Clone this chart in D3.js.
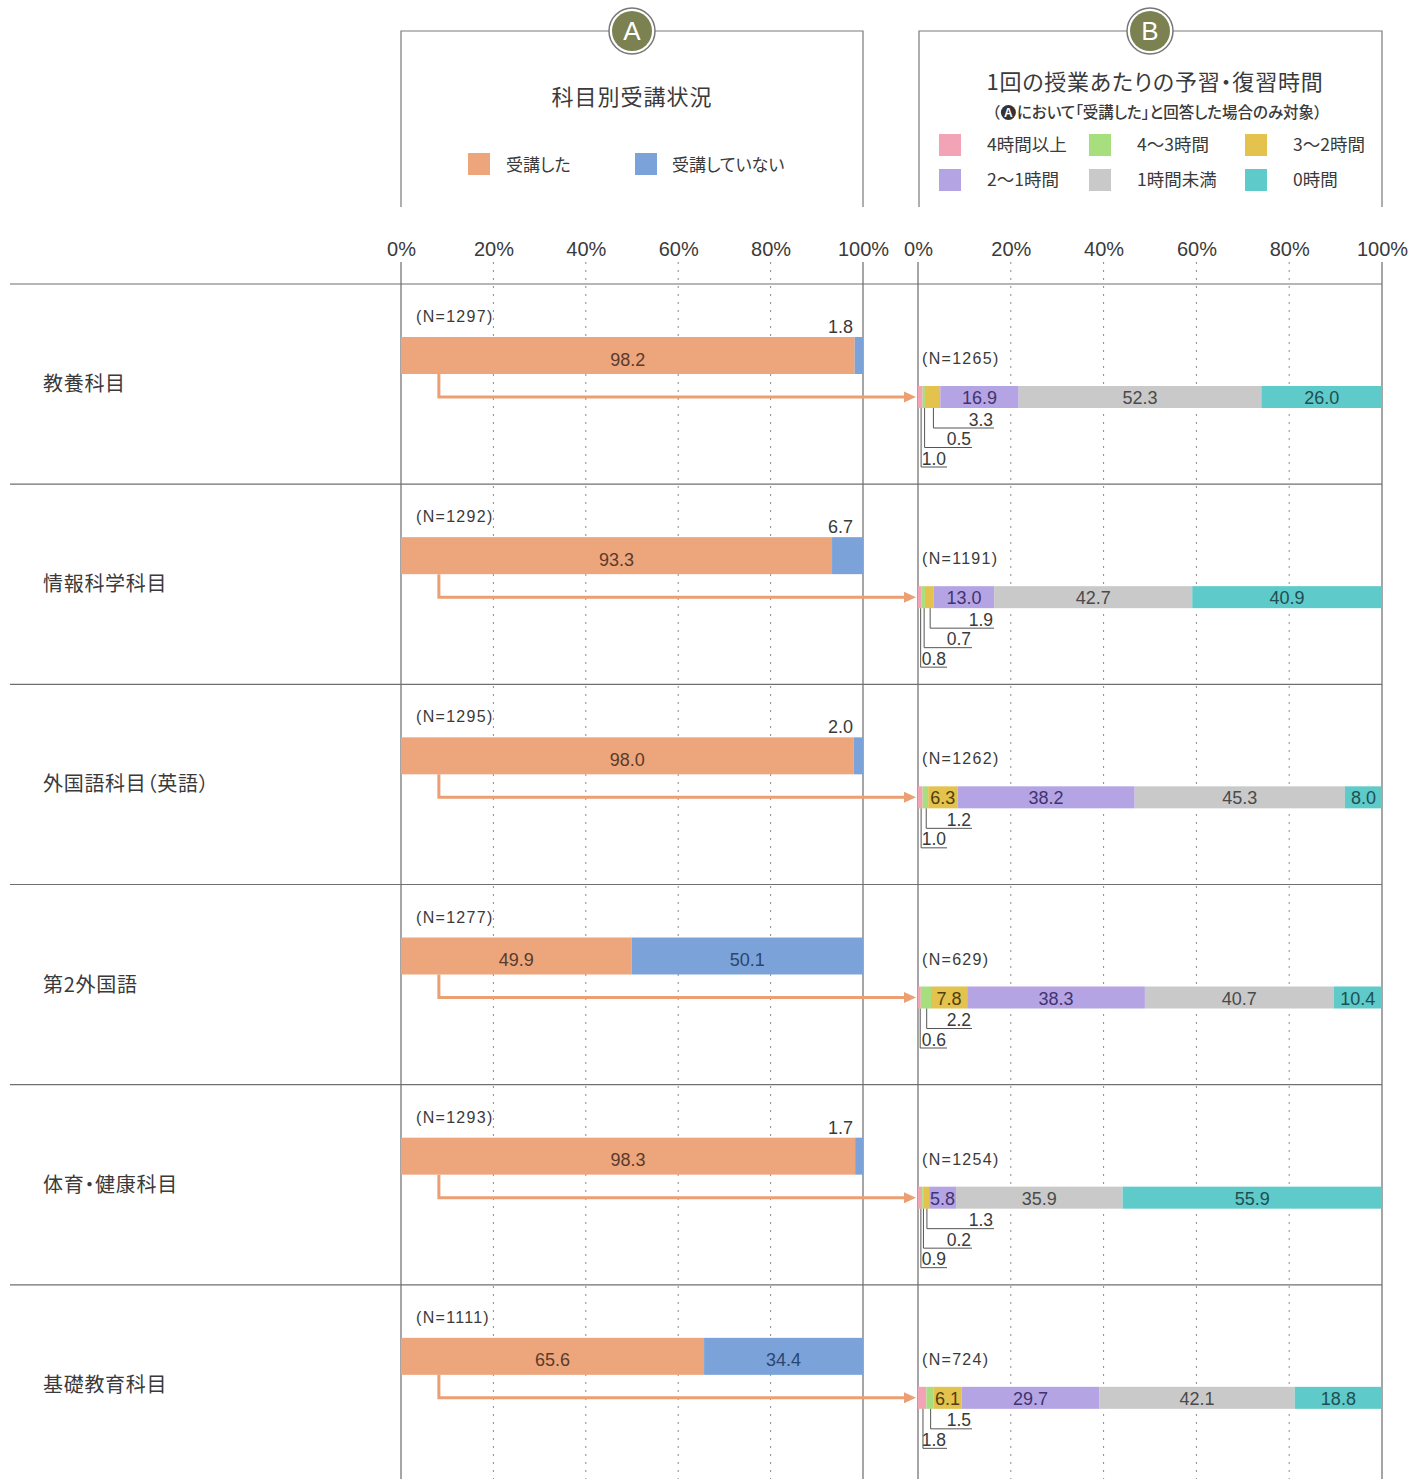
<!DOCTYPE html>
<html>
<head>
<meta charset="utf-8">
<script src="https://cdn.jsdelivr.net/npm/d3@7"></script>
<style>
  body { margin: 0; background: #fff; }
  text { font-family: "Liberation Sans", "Noto Sans CJK JP", sans-serif; fill: #3a3a3a; }
  .jp { font-family: "Noto Sans CJK JP", sans-serif; font-feature-settings: "palt"; }
</style>
</head>
<body>
<script>
// categories and values
const categories = ["教養科目", "情報科学科目", "外国語科目（英語）", "第2外国語", "体育・健康科目", "基礎教育科目"];
const nTotal = [1297, 1292, 1295, 1277, 1293, 1111];
const tookIt = [98.2, 93.3, 98.0, 49.9, 98.3, 65.6];
const notTook = [1.8, 6.7, 2.0, 50.1, 1.7, 34.4];

const nTook = [1265, 1191, 1262, 629, 1254, 724];
const timeLabels = ["4時間以上", "4～3時間", "3～2時間", "2～1時間", "1時間未満", "0時間"];
const h4plus = [1.0, 0.8, 1.0, 0.6, 0.9, 1.8];
const h4to3 = [0.5, 0.7, 1.2, 2.2, 0.2, 1.5];
const h3to2 = [3.3, 1.9, 6.3, 7.8, 1.3, 6.1];
const h2to1 = [16.9, 13.0, 38.2, 38.3, 5.8, 29.7];
const hUnder1 = [52.3, 42.7, 45.3, 40.7, 35.9, 42.1];
const h0 = [26.0, 40.9, 8.0, 10.4, 55.9, 18.8];

const tickLabels = ["0%", "20%", "40%", "60%", "80%", "100%"];
const tickValues = [0, 20, 40, 60, 80, 100];

const colA = ["#eda57c", "#7ba3d9"];
const colA_text = ["#5a3b2c", "#2c4670"];
const colB = ["#f2a3b6", "#a7df7f", "#e3c24e", "#b5a4e3", "#c9c9c9", "#5ecaca"];
const colB_text = ["#444", "#444", "#4e3f0c", "#41336f", "#4a4a4a", "#1f4f50"];

var W = 1427, H = 1479;
var svg = d3.select("body").append("svg").attr("width", W).attr("height", H);

var xA = d3.scaleLinear().domain([0, 100]).range([401, 863]);
var xB = d3.scaleLinear().domain([0, 100]).range([918, 1382]);
var yRow = d3.scaleBand().domain(categories).range([284, 1485]).padding(0);

// ---- header boxes ----
function headerBox(x, cx, letter) {
    var g = svg.append("g");
    g.append("path")
        .attr("d", "M" + x(0) + ",207V31H" + x(100) + "V207")
        .attr("fill", "none").attr("stroke", "#7a7a7a").attr("stroke-width", 1.2);
    g.append("circle").attr("cx", cx).attr("cy", 31).attr("r", 23)
        .attr("fill", "#fff").attr("stroke", "#777").attr("stroke-width", 1.5);
    g.append("circle").attr("cx", cx).attr("cy", 31).attr("r", 20).attr("fill", "#7b8150");
    g.append("text").attr("x", cx).attr("y", 40).attr("text-anchor", "middle")
        .style("font-size", "26px").style("fill", "#fff").text(letter);
}
headerBox(xA, 632, "A");
headerBox(function (v) { return v == 0 ? 919 : xB(v); }, 1150, "B");

svg.append("text").attr("class", "jp").attr("x", 632).attr("y", 105).attr("text-anchor", "middle")
    .style("font-size", "22px").style("letter-spacing", "1px").text("科目別受講状況");

// legend A
var legA = [{ t: "受講した", x: 468, tx: 506 }, { t: "受講していない", x: 635, tx: 672 }];
legA.forEach(function (d, i) {
    svg.append("rect").attr("x", d.x).attr("y", 153).attr("width", 22).attr("height", 22).attr("fill", colA[i]);
    svg.append("text").attr("class", "jp").attr("x", d.tx).attr("y", 171).style("font-size", "17px").text(d.t);
});

// title B
svg.append("text").attr("class", "jp").attr("x", 1155).attr("y", 90).attr("text-anchor", "middle")
    .style("font-size", "22px").style("letter-spacing", "0.8px").text("1回の授業あたりの予習・復習時間");

// subtitle with a filled circled A
var sub = svg.append("text").attr("class", "jp").attr("y", 118).style("font-size", "15.5px").style("font-weight", "500");
var t1 = sub.append("tspan").text("（");
sub.append("tspan").attr("dx", 17).text("において「受講した」と回答した場合のみ対象）");
var subW = sub.node().getComputedTextLength() + 17;
var subX = 1157 - subW / 2;
sub.attr("x", subX);
var t1w = t1.node().getComputedTextLength();
svg.append("circle").attr("cx", subX + t1w + 8.5).attr("cy", 112.5).attr("r", 7.5).attr("fill", "#333");
svg.append("text").attr("x", subX + t1w + 8.5).attr("y", 117).attr("text-anchor", "middle")
    .style("font-size", "12px").style("font-weight", "bold").style("fill", "#fff").text("A");

// legend B
var legBx = [939, 1089, 1245];
timeLabels.forEach(function (t, i) {
    var col = i % 3, row = Math.floor(i / 3);
    var cy = 145 + row * 35;
    svg.append("rect").attr("x", legBx[col]).attr("y", cy - 11).attr("width", 22).attr("height", 22).attr("fill", colB[i]);
    svg.append("text").attr("class", "jp").attr("x", legBx[col] + 48).attr("y", cy + 6)
        .style("font-size", "17.5px").text(t);
});

// ---- axes tick labels ----
[xA, xB].forEach(function (x) {
    var ax = svg.append("g").attr("transform", "translate(0,249)")
        .call(d3.axisTop(x).tickValues(tickValues).tickSize(0).tickFormat(function (d, i) { return tickLabels[i]; }));
    ax.select(".domain").remove();
    ax.selectAll("text").attr("dy", "0.35em").attr("y", 0)
        .style("font-size", "20px").style("font-family", "'Liberation Sans', sans-serif").style("fill", "#3a3a3a");
});

// ---- gridlines ----
[xA, xB].forEach(function (x) {
    svg.append("g").selectAll("line").data([20, 40, 60, 80]).enter().append("line")
        .attr("x1", function (d) { return x(d); }).attr("x2", function (d) { return x(d); })
        .attr("y1", 262).attr("y2", H)
        .attr("stroke", "#8a8a8a").attr("stroke-width", 1).attr("stroke-dasharray", "2,6");
    svg.append("g").selectAll("line").data([0, 100]).enter().append("line")
        .attr("x1", function (d) { return x(d); }).attr("x2", function (d) { return x(d); })
        .attr("y1", 262).attr("y2", H)
        .attr("stroke", "#6a6a6a").attr("stroke-width", 1.2);
});

// row separators
svg.append("g").selectAll("line").data(categories).enter().append("line")
    .attr("x1", 10).attr("x2", xB(100))
    .attr("y1", function (d) { return yRow(d); }).attr("y2", function (d) { return yRow(d); })
    .attr("stroke", "#6f6f6f").attr("stroke-width", 1.2);

// ---- rows ----
var seriesB = [h4plus, h4to3, h3to2, h2to1, hUnder1, h0];
var endOffsets = [29, 54, 76];

categories.forEach(function (cat, r) {
    var y0 = yRow(cat);
    var g = svg.append("g");

    g.append("text").attr("class", "jp").attr("x", 43).attr("y", y0 + 107)
        .style("font-size", "20px").style("letter-spacing", "0.7px").text(cat);

    // panel A
    g.append("text").attr("x", 416).attr("y", y0 + 38).style("font-size", "16px").style("letter-spacing", "1.3px")
        .text("(N=" + nTotal[r] + ")");
    var aTop = y0 + 53, aH = 37;
    var segA = [{ s: 0, v: tookIt[r] }, { s: tookIt[r], v: notTook[r] }];
    segA.forEach(function (d, i) {
        g.append("rect").attr("x", xA(d.s)).attr("y", aTop).attr("width", xA(d.s + d.v) - xA(d.s)).attr("height", aH)
            .attr("fill", colA[i]);
        if (d.v >= 10) {
            g.append("text").attr("x", (xA(d.s) + xA(d.s + d.v)) / 2).attr("y", aTop + aH / 2 + 10)
                .attr("text-anchor", "middle").style("font-size", "18px").style("fill", colA_text[i])
                .text(d.v.toFixed(1));
        } else {
            g.append("text").attr("x", xA(100) - 10).attr("y", aTop - 4)
                .attr("text-anchor", "end").style("font-size", "18px").text(d.v.toFixed(1));
        }
    });

    // panel B
    g.append("text").attr("x", 922).attr("y", y0 + 80).style("font-size", "16px").style("letter-spacing", "1.3px")
        .text("(N=" + nTook[r] + ")");
    var bTop = y0 + 102, bH = 22, bMid = bTop + bH / 2;

    // arrow from A to B
    g.append("path")
        .attr("d", "M" + xA(8.2) + "," + (aTop + aH) + "V" + bMid + "H" + (xB(0) - 12))
        .attr("fill", "none").attr("stroke", "#eb9f72").attr("stroke-width", 3);
    g.append("path")
        .attr("d", "M" + (xB(0) - 14) + "," + (bMid - 5.5) + "L" + (xB(0) - 2) + "," + bMid + "L" + (xB(0) - 14) + "," + (bMid + 5.5) + "Z")
        .attr("fill", "#eb9f72");

    var acc = 0, small = [];
    seriesB.forEach(function (s, i) {
        var v = s[r];
        var x0 = xB(acc), x1 = xB(acc + v);
        g.append("rect").attr("x", x0).attr("y", bTop).attr("width", x1 - x0).attr("height", bH).attr("fill", colB[i]);
        if (v >= 4) {
            g.append("text").attr("x", (x0 + x1) / 2).attr("y", bMid + 7).attr("text-anchor", "middle")
                .style("font-size", "18px").style("fill", colB_text[i]).text(v.toFixed(1));
        } else {
            small.push({ v: v, mx: (x0 + x1) / 2 + 0.8 });
        }
        acc += v;
    });

    // leader labels under the bar, rightmost segment nearest the bar
    small.reverse();
    var n = small.length;
    small.forEach(function (d, k) {
        var ly = bTop + bH + 20 + 19.5 * k;
        var ex = xB(0) + endOffsets[n - 1 - k];
        g.append("path").attr("d", "M" + d.mx + "," + (bTop + bH) + "V" + ly + "H" + ex)
            .attr("fill", "none").attr("stroke", "#555").attr("stroke-width", 1);
        g.append("text").attr("x", ex - 1).attr("y", ly - 2.5).attr("text-anchor", "end")
            .style("font-size", "17.5px").text(d.v.toFixed(1));
    });
});
</script>
</body>
</html>
